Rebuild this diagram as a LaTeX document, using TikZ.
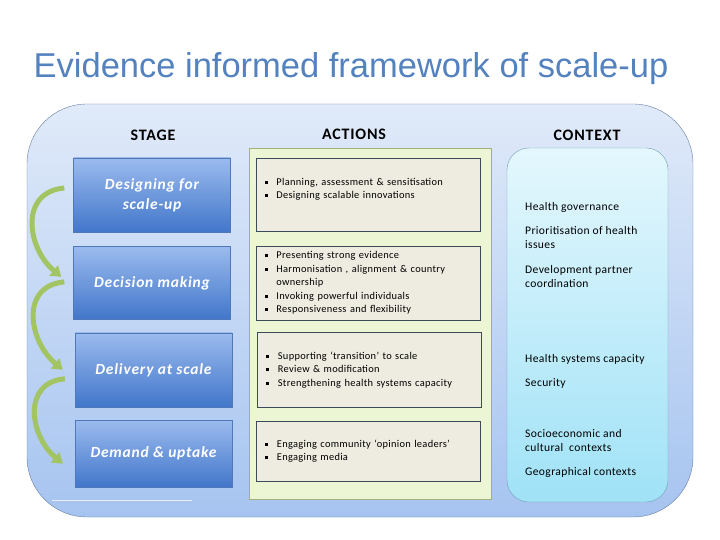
\documentclass[tikz,border=0pt]{standalone}
\usepackage{fontspec}
\setmainfont{Carlito}
\newfontfamily\titlefont{Liberation Sans}
\newfontfamily\headfont[LetterSpace=5]{Carlito}
\newfontfamily\stagefont[LetterSpace=5]{Carlito}
\newfontfamily\actfont[LetterSpace=3]{Carlito}
\newfontfamily\ctxfont[LetterSpace=3]{Carlito}
\usepackage{xcolor}
\usepackage{tikz}
\usetikzlibrary{positioning}
\usetikzlibrary{arrows.meta}

\definecolor{titleblue}{RGB}{84,130,190}
\definecolor{panelTop}{RGB}{224,234,249}
\definecolor{panelBot}{RGB}{166,196,240}
\definecolor{panelLine}{RGB}{100,125,160}
\definecolor{stageTop}{RGB}{155,187,238}
\definecolor{stageBot}{RGB}{66,118,202}
\definecolor{stageLine}{RGB}{80,120,185}
\definecolor{actPanel}{RGB}{237,246,212}
\definecolor{actPanelLine}{RGB}{160,178,130}
\definecolor{actFill}{RGB}{238,236,225}
\definecolor{actLine}{RGB}{60,75,90}
\definecolor{ctxTop}{RGB}{228,247,253}
\definecolor{ctxBot}{RGB}{160,226,247}
\definecolor{ctxLine}{RGB}{115,160,180}
\definecolor{loopGreen}{RGB}{163,196,98}

\newcommand{\bul}{\makebox[11.5pt][l]{\rule[1.5pt]{3pt}{3pt}}}

\begin{document}
\begin{tikzpicture}[x=1pt, y=1pt,
    stage/.style={draw=stageLine, top color=stageTop, bottom color=stageBot,
        minimum width=157pt, text=white, align=center,
        font=\stagefont\bfseries\itshape\fontsize{15.5}{20}\selectfont},
    action/.style={draw=actLine, fill=actFill, text width=206pt, inner xsep=9pt,
        align=left, font=\actfont\fontsize{10.4}{13.4}\selectfont},
    ctx/.style={anchor=west, inner sep=0pt, align=left,
        font=\ctxfont\fontsize{11.6}{14}\selectfont},
    head/.style={font=\headfont\bfseries\fontsize{16}{18}\selectfont},
    loop/.style={draw=loopGreen, line width=5pt,
        -{Triangle[width=13pt,length=10pt]}}]
    \useasboundingbox (0,0) rectangle (720,-540);

    % title and panels
    \node[text=titleblue, font=\titlefont\fontsize{34.5}{40}\selectfont] (title) at (351,-69) {Evidence informed framework of scale-up};
    \draw[draw=panelLine, top color=panelTop, bottom color=panelBot, rounded corners=60pt] (27,-104) rectangle (693,-517);
    \draw[draw=actPanelLine, fill=actPanel] (249,-148) rectangle (491,-499);
    \draw[draw=ctxLine, top color=ctxTop, bottom color=ctxBot, rounded corners=22pt] (507,-148) rectangle (668,-502);
    \draw[white!92!blue] (52,-500) -- (192,-500);

    % nodes (headers)
    \node[head] (hstage) at (153,-135) {STAGE};
    \node[head] (hact) at (354,-134) {ACTIONS};
    \node[head] (hctx) at (587,-135) {CONTEXT};

    % nodes (stages)
    \node[stage, minimum height=74pt] (s1) at (152,-195) {Designing for\\scale-up};
    \node[stage, minimum height=73pt, below=14pt of s1] (s2) {Decision making};
    \node[stage, minimum height=74pt, below=13pt of s2, xshift=1.5pt] (s3) {Delivery at scale};
    \node[stage, minimum height=67pt, below=13pt of s3] (s4) {Demand \& uptake};

    % nodes (actions)
    \node[action, minimum height=73pt, right=25pt of s1] (a1) {\bul Planning, assessment \& sensitisation\\
        \bul Designing scalable innovations\\ \mbox{}};
    \node[action, minimum height=74pt, right=25pt of s2] (a2) {\bul Presenting strong evidence\\
        \bul Harmonisation , alignment \& country\\
        \hspace*{11.5pt}ownership\\
        \bul Invoking powerful individuals\\
        \bul Responsiveness and flexibility};
    \node[action, minimum height=75pt, right=25pt of s3] (a3) {\bul Supporting ‘transition’ to scale\\
        \bul Review \& modification\\
        \bul Strengthening health systems capacity};
    \node[action, minimum height=60pt, right=24pt of s4, yshift=2.5pt] (a4) {\bul Engaging community ‘opinion leaders’\\
        \bul Engaging media};

    % nodes (context)
    \node[ctx] (c1) at (525,-207) {Health governance};
    \node[ctx] (c2) at (525,-238) {Prioritisation of health\\issues};
    \node[ctx] (c3) at (525,-277) {Development partner\\coordination};
    \node[ctx] (c4) at (525,-359) {Health systems capacity};
    \node[ctx] (c5) at (525,-383) {Security};
    \node[ctx] (c6) at (525,-441) {Socioeconomic and\\cultural \ contexts};
    \node[ctx] (c7) at (525,-472) {Geographical contexts};

    % edges (stage cycle)
    \draw[loop] ([xshift=-9pt,yshift=7pt]s1.west) to[out=185,in=140,looseness=1.3] ([xshift=-12pt,yshift=6pt]s2.west);
    \draw[loop] ([xshift=-9pt,yshift=1pt]s2.west) to[out=185,in=140,looseness=1.3] ([xshift=-12pt,yshift=0pt]s3.west);
    \draw[loop] ([xshift=-10pt,yshift=-9pt]s3.west) to[out=185,in=140,looseness=1.3] ([xshift=-12pt,yshift=-10pt]s4.west);
\end{tikzpicture}
\end{document}
